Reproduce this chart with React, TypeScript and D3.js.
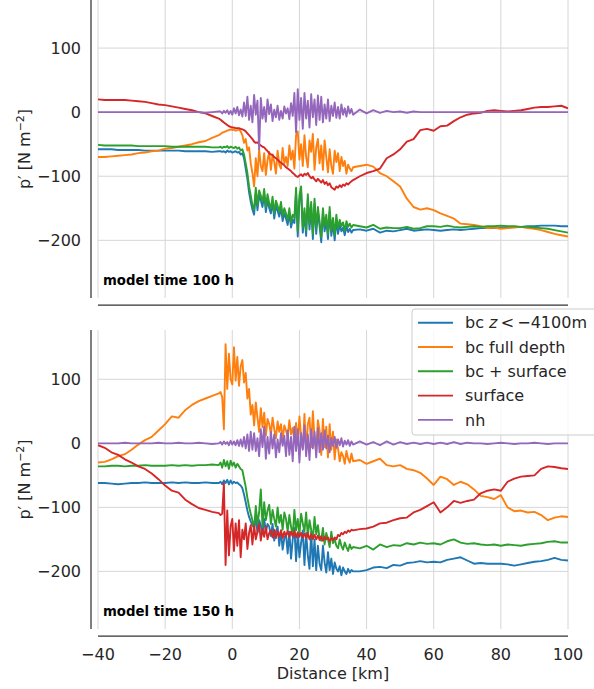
import React from 'react';
import * as d3 from 'd3';

const W = 594;
const H = 689;

// distance samples [km]: coarse west, fine core, coarse east
const xWest = [-40, -38, -36, -34, -32, -30, -28, -26, -24, -22, -20, -18, -16, -14, -12, -10, -8, -6, -4];
const xCore = [
  -3.5, -3, -2.5, -2, -1.5, -1, -0.5, 0, 0.5, 1,
  1.5, 2, 2.5, 3, 3.5, 4, 4.5, 5, 5.5, 6,
  6.5, 7, 7.5, 8, 8.5, 9, 9.5, 10, 10.5, 11,
  11.5, 12, 12.5, 13, 13.5, 14, 14.5, 15, 15.5, 16,
  16.5, 17, 17.5, 18, 18.5, 19, 19.5, 20, 20.5, 21,
  21.5, 22, 22.5, 23, 23.5, 24, 24.5, 25, 25.5, 26,
  26.5, 27, 27.5, 28, 28.5, 29, 29.5, 30, 30.5, 31,
  31.5, 32, 32.5, 33, 33.5, 34, 34.5, 35, 35.5, 36,
];
const xEast = [
  38, 40, 42, 44, 46, 48, 50, 52,
  54, 56, 58, 60, 62, 64, 66, 68,
  70, 72, 74, 76, 78, 80, 82, 84,
  86, 88, 90, 92, 94, 96, 98, 100,
];
const distance = [...xWest, ...xCore, ...xEast];

// ---- model time 100 h ----
const bcDeep100 = [
  -58, -58, -58, -59, -59, -59, -59, -60, -60, -60, -60, -60, -60, -61, -61, -61, -61, -62, -61,
  -61, -62, -61, -63, -60, -62, -61, -63, -62, -61,
  -63, -62, -66, -64, -72, -88, -104, -125, -140, -152,
  -160, -126, -153, -130, -138, -148, -128, -156, -136, -150,
  -158, -140, -166, -146, -154, -163, -148, -170, -158, -166,
  -176, -158, -180, -168, -173, -126, -194, -138, -124, -188,
  -158, -193, -136, -183, -148, -198, -143, -190, -156, -178,
  -203, -158, -186, -168, -198, -156, -193, -173, -200, -168,
  -190, -176, -186, -180, -192, -178, -187, -182, -188, -184,
  -183, -185, -182, -188, -185, -186, -184, -182,
  -185, -184, -183, -184, -185, -184, -183, -184,
  -183, -182, -181, -181, -181, -180, -180, -179,
  -179, -178, -178, -177, -177, -177, -178, -178,
];
const bcFull100 = [
  -70, -70, -69, -68, -67, -66, -64, -63, -61, -60, -57, -56, -54, -52, -50, -47, -45, -40, -36,
  -34, -32, -31, -30, -29, -28, -27, -28, -27, -29,
  -28, -27, -30, -36, -48, -42, -60, -55, -80, -95,
  -116, -72, -100, -58, -84, -92, -64, -98, -75, -62,
  -90, -66, -78, -96, -60, -82, -88, -56, -80, -70,
  -84, -52, -74, -60, -88, -36, -30, -74, -50, -84,
  -36, -70, -86, -44, -62, -34, -90, -55, -42, -80,
  -52, -90, -44, -70, -94, -58, -84, -96, -60, -78,
  -64, -92, -70, -84, -76, -96, -82, -88, -92, -86,
  -84, -82, -85, -95, -100, -108, -116, -135,
  -148, -152, -150, -153, -158, -162, -166, -174,
  -175, -176, -178, -181, -180, -182, -181, -180,
  -179, -181, -182, -184, -187, -190, -192, -194,
];
const bcSurf100 = [
  -51, -52, -52, -52, -52, -52, -53, -53, -53, -53, -53, -54, -54, -54, -54, -54, -54, -55, -55,
  -54, -56, -54, -55, -53, -56, -54, -55, -56, -54,
  -57, -55, -60, -58, -66, -80, -95, -116, -130, -145,
  -152, -118, -145, -122, -130, -140, -120, -148, -128, -142,
  -150, -132, -158, -138, -146, -155, -140, -162, -150, -158,
  -168, -150, -172, -160, -165, -118, -186, -130, -116, -180,
  -150, -185, -128, -175, -140, -190, -135, -182, -148, -170,
  -195, -150, -178, -160, -190, -148, -185, -165, -192, -160,
  -182, -168, -178, -172, -185, -170, -179, -174, -180, -176,
  -178, -180, -176, -182, -180, -181, -181, -179,
  -182, -181, -178, -178, -179, -177, -179, -180,
  -179, -178, -179, -178, -178, -177, -178, -178,
  -179, -179, -180, -181, -182, -184, -186, -188,
];
const surface100 = [
  20, 19, 19, 19, 19, 18, 17, 16, 14, 12, 11, 9, 7, 5, 3, 0, -2, -6, -10,
  -12, -14, -16, -18, -20, -22, -23, -24, -24, -25,
  -25, -25, -26, -27, -28, -30, -33, -36, -39, -42,
  -46, -48, -47, -50, -52, -54, -55, -58, -61, -64,
  -66, -67, -70, -72, -74, -77, -79, -81, -83, -86,
  -88, -90, -92, -95, -97, -100, -101, -99, -97, -100,
  -96, -98, -95, -100, -103, -101, -105, -108, -104, -107,
  -110, -106, -112, -109, -114, -111, -117, -119, -121, -116,
  -118, -114, -117, -113, -115, -111, -113, -110, -108, -106,
  -100, -95, -92, -88, -72, -66, -58, -46,
  -42, -28, -26, -29, -22, -21, -14, -8,
  -4, -2, -1, 2, 3, 2, 1, 2,
  3, 5, 7, 8, 8, 9, 10, 6,
];
const nh100 = [
  0, 0, 0, 0, 0, 0, 0, 0, 0, 0, 0, 0, 0, 0, 0, 0, -1, 0, 1,
  1, -2, 2, -1, 3, -3, 2, -4, 6, -2,
  8, -5, 4, -7, 15, -6, 24, -12, 10, -16,
  27, -4, 18, -58, 22, -10, 8, -15, 20, -3,
  12, -14, 4, -8, 10, -12, 2, -10, 9, -2,
  6, -11, 14, -6, 30, -32, 36, -12, 22, -26,
  30, -10, 18, -24, 28, -8, 20, -20, 26, -12,
  24, -16, 12, -10, 20, -14, 10, -6, 15, -9,
  8, -10, 12, -4, 6, -7, 9, -2, 5, -4,
  4, -2, 3, -1, 2, 0, 1, -1,
  1, 0, 0, 0, 0, 0, 0, 0,
  0, 0, 0, 0, 0, 0, 0, 0,
  0, 0, 0, 0, 0, 0, 0, 0,
];

// ---- model time 150 h ----
const bcDeep150 = [
  -62, -62, -63, -64, -63, -62, -62, -61, -62, -62, -62, -61, -62, -61, -62, -62, -61, -62, -62,
  -60, -64, -58, -62, -57, -64, -58, -63, -60, -62,
  -61, -64, -66, -70, -80, -92, -105, -115, -122, -128,
  -132, -114, -140, -120, -128, -142, -118, -138, -126, -130,
  -145, -126, -152, -138, -130, -160, -136, -166, -148, -142,
  -172, -138, -180, -150, -132, -184, -140, -178, -155, -136,
  -190, -140, -175, -196, -138, -192, -150, -198, -160, -188,
  -198, -160, -186, -202, -170, -198, -180, -204, -186, -196,
  -200, -192, -206, -194, -200, -204, -196, -202, -198, -200,
  -200, -198, -194, -193, -195, -190, -191, -187,
  -186, -184, -186, -185, -186, -182, -180, -178,
  -183, -188, -187, -188, -188, -188, -189, -191,
  -189, -187, -185, -184, -182, -179, -182, -183,
];
const bcFull150 = [
  -30, -29, -25, -20, -17, -10, -2, 5, 10, 20, 30, 42, 40, 52, 60, 66, 70, 74, 78,
  80, 72, 22, 155, 85, 140, 100, 92, 150, 98,
  135, 90, 120, 130, 95, 110, 70, 85, 45, 60,
  28, 64, 40, 18, 55, 25, 48, 12, 38, 30,
  14, 40, 22, 8, 34, 18, 30, 6, 28, 20,
  10, 36, 14, 24, 4, 32, -2, 42, 10, -8,
  46, -12, 30, 40, -6, 50, 8, -14, 36, 20,
  -18, 38, -6, 26, -22, 30, -10, 18, -25, 6,
  -8, -28, -14, -20, -32, -12, -24, -30, -16, -28,
  -26, -32, -28, -24, -34, -36, -34, -40,
  -42, -46, -55, -65, -52, -56, -65, -60,
  -64, -72, -82, -84, -87, -81, -100, -106,
  -105, -108, -107, -112, -120, -116, -114, -115,
];
const bcSurf150 = [
  -36, -36, -35, -35, -36, -35, -35, -34, -35, -35, -35, -34, -35, -34, -35, -34, -34, -33, -34,
  -30, -38, -26, -36, -28, -40, -27, -35, -30, -38,
  -32, -36, -40, -42, -55, -68, -85, -99, -110, -120,
  -135, -98, -126, -108, -72, -130, -92, -120, -105, -96,
  -126, -104, -118, -130, -100, -124, -112, -135, -108, -118,
  -138, -112, -130, -145, -104, -136, -118, -142, -110, -125,
  -138, -108, -146, -120, -135, -150, -115, -142, -128, -148,
  -152, -132, -158, -140, -150, -162, -138, -156, -150, -160,
  -164, -150, -160, -166, -155, -162, -168, -158, -165, -162,
  -164, -160, -166, -158, -162, -159, -160, -156,
  -158, -155, -157, -156, -158, -153, -150, -155,
  -157, -156, -158, -159, -158, -160, -158, -159,
  -160, -158, -157, -156, -154, -153, -155, -155,
];
const surface150 = [
  -3, -7, -14, -18, -25, -30, -36, -40, -47, -56, -66, -74, -77, -88, -95, -101, -104, -107, -109,
  -112, -110, -62, -190, -105, -175, -130, -118, -168, -125,
  -160, -120, -178, -135, -150, -125, -165, -140, -128, -158,
  -128, -150, -138, -126, -152, -134, -146, -130, -150, -140,
  -136, -147, -135, -148, -137, -146, -136, -148, -138, -145,
  -137, -146, -138, -145, -137, -147, -139, -146, -140, -147,
  -141, -148, -140, -150, -142, -149, -143, -150, -144, -151,
  -145, -152, -146, -150, -147, -153, -148, -151, -147, -150,
  -143, -145, -140, -142, -138, -140, -136, -138, -135, -136,
  -134, -133, -130, -125, -124, -120, -117, -116,
  -108, -104, -98, -92, -108, -100, -90, -93,
  -90, -88, -78, -74, -72, -74, -60, -55,
  -52, -51, -50, -40, -36, -37, -39, -40,
];
const nh150 = [
  0, 0, 0, 0, 1, 0, 0, 0, 0, 1, 0, 0, 1, 0, 0, 1, 0, -1, 0,
  2, -2, 3, -1, 2, -3, 4, -2, 3, -3,
  5, -4, 6, -5, 10, -8, 14, -12, 18, -10,
  16, -12, 8, -20, 22, -6, 26, -24, 10, -16,
  18, -8, 14, -22, 6, -14, 16, -4, 12, -20,
  20, -18, 10, -28, 26, -12, 22, -30, 16, -10,
  28, -20, 14, -26, 22, -8, 18, -22, 24, -14,
  16, -10, 20, -8, 12, -14, 8, -4, 10, -7,
  6, -3, 8, -5, 4, -2, 5, -4, 3, -2,
  3, -2, 2, -3, 3, -2, 2, -1,
  1, -1, 1, -1, 1, -1, 2, -1,
  1, 0, 0, -1, 0, 1, 0, -1,
  0, 0, 1, 0, -1, 0, 0, 0,
];

const colors = ['#1f77b4', '#ff7f0e', '#2ca02c', '#d62728', '#9467bd'];
const yTicks = [100, 0, -100, -200];
const xTicks = [-40, -20, 0, 20, 40, 60, 80, 100];

const panels = [
  { label: 'model time 100 h', top: 0, bottom: 298, domain: [-290, 175], series: [bcDeep100, bcFull100, bcSurf100, surface100, nh100] },
  { label: 'model time 150 h', top: 330, bottom: 629, domain: [-290, 177], series: [bcDeep150, bcFull150, bcSurf150, surface150, nh150] },
];

const FONT = 'DejaVu Sans, sans-serif';
const TEXT = '#262626';
const SPINE = '#333333';
const GRID = '#d6d6d6';

const x = d3.scaleLinear().domain([-40, 100]).range([98, 568]);

function LegendLabel({ i }: { i: number }) {
  if (i === 0) {
    return (
      <>
        bc <tspan fontStyle="italic">z</tspan>{'\u2009<\u2009\u22124100m'}
      </>
    );
  }
  return <>{['', 'bc full depth', 'bc + surface', 'surface', 'nh'][i]}</>;
}

export default function App() {
  return (
    <svg width={W} height={H} style={{ position: 'absolute', left: 0, top: 0, background: '#fff' }} fontFamily={FONT}>
      <defs>
        {panels.map((p, k) => (
          <clipPath id={`clip${k}`} key={k}>
            <rect x={x(-40)} y={p.top} width={x(100) - x(-40)} height={p.bottom - p.top} />
          </clipPath>
        ))}
      </defs>
      {panels.map((p, k) => {
        const y = d3.scaleLinear().domain(p.domain).range([p.bottom, p.top]);
        const line = d3
          .line<number>()
          .x((_, i) => x(distance[i]))
          .y((d) => y(d));
        const cy = (p.top + p.bottom) / 2;
        return (
          <g key={k}>
            {/* grid */}
            {xTicks.map((t) => (
              <line key={`gx${t}`} x1={x(t)} x2={x(t)} y1={p.top} y2={p.bottom} stroke={GRID} strokeWidth={1} />
            ))}
            {yTicks.map((t) => (
              <line key={`gy${t}`} x1={x(-40)} x2={x(100)} y1={y(t)} y2={y(t)} stroke={GRID} strokeWidth={1} />
            ))}
            {/* data */}
            <g clipPath={`url(#clip${k})`}>
              {p.series.map((s, j) => (
                <path key={j} d={line(s.slice(0, distance.length)) || ''} fill="none" stroke={colors[j]} strokeWidth={1.9} strokeLinejoin="round" />
              ))}
            </g>
            {/* spines */}
            <line x1={91} x2={91} y1={p.top} y2={p.bottom} stroke={SPINE} strokeWidth={1.25} />
            <line x1={x(-40)} x2={x(100)} y1={p.bottom + 7} y2={p.bottom + 7} stroke={SPINE} strokeWidth={1.25} />
            {/* y ticks */}
            {yTicks.map((t) => (
              <text key={`ty${t}`} x={81} y={y(t)} dy="0.36em" textAnchor="end" fontSize={16} fill={TEXT}>
                {t < 0 ? `\u2212${Math.abs(t)}` : t}
              </text>
            ))}
            <text transform={`translate(30,${cy}) rotate(-90)`} textAnchor="middle" fontSize={16} fill={TEXT}>
              p′ [N m<tspan dy={-6} fontSize={11}>{'\u22122'}</tspan>
              <tspan dy={6}>]</tspan>
            </text>
            <text x={103} y={p.bottom - 13} fontSize={13.3} fontWeight="bold" fill="#000">
              {p.label}
            </text>
          </g>
        );
      })}
      {/* x ticks on lower panel */}
      {xTicks.map((t) => (
        <text key={`tx${t}`} x={x(t)} y={660} textAnchor="middle" fontSize={16} fill={TEXT}>
          {t < 0 ? `\u2212${Math.abs(t)}` : t}
        </text>
      ))}
      <text x={(x(-40) + x(100)) / 2} y={679} textAnchor="middle" fontSize={16} fill={TEXT}>
        Distance [km]
      </text>
      {/* legend */}
      <g>
        <rect x={412} y={309} width={200} height={126} rx={3} fill="#fff" fillOpacity={0.8} stroke="#cccccc" strokeWidth={1} />
        {colors.map((c, i) => {
          const ly = 322.7 + i * 24.3;
          return (
            <g key={i}>
              <line x1={418} x2={453} y1={ly} y2={ly} stroke={c} strokeWidth={1.9} />
              <text x={465} y={ly} dy="0.36em" fontSize={16} fill={TEXT}>
                <LegendLabel i={i} />
              </text>
            </g>
          );
        })}
      </g>
    </svg>
  );
}
